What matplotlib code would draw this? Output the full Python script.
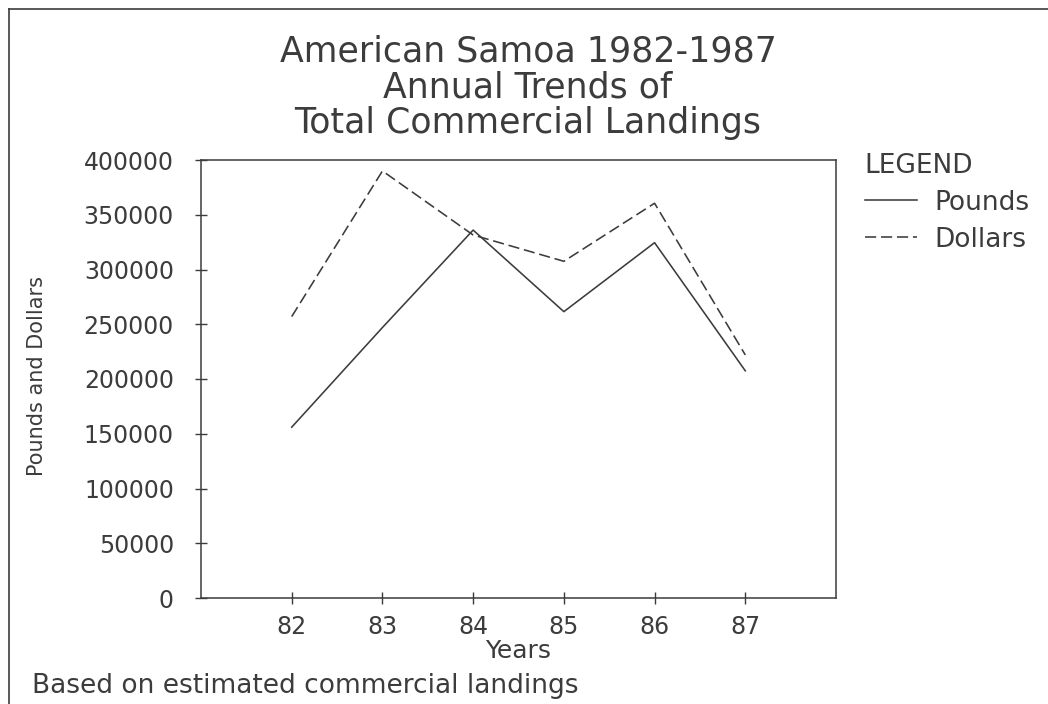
import matplotlib
matplotlib.use("Agg")
import matplotlib.pyplot as plt
from matplotlib.lines import Line2D

# ---- data ----
years = [82, 83, 84, 85, 86, 87]
pounds = [156000, 247000, 336000, 261500, 324500, 207500]
dollars = [257000, 390000, 331500, 307500, 360500, 222000]
y_ticks = [0, 50000, 100000, 150000, 200000, 250000, 300000, 350000, 400000]
title_lines = ["American Samoa 1982-1987", "Annual Trends of", "Total Commercial Landings"]

W, H = 1048, 704
ink = "#3c3c3c"
plt.rcParams['font.family'] = ['DejaVu Sans']

fig = plt.figure(figsize=(W / 100, H / 100), dpi=100)
ax = fig.add_axes([201 / W, 1 - 598 / H, (836 - 201) / W, (598 - 160) / H])

ax.plot(years, pounds, color=ink, lw=1.15, label="Pounds")
ax.plot(years, dollars, color=ink, lw=1.15, dashes=(7, 3), label="Dollars")

ax.set_xlim(81, 88)
ax.set_ylim(0, 400000)
ax.set_xticks(years)
ax.set_xticklabels([str(y) for y in years])
ax.set_yticks(y_ticks)
ax.set_yticklabels([str(v) for v in y_ticks])
ax.tick_params(axis='both', direction='inout', length=9, width=1.0, color=ink,
               labelcolor=ink, labelsize=17)
ax.tick_params(axis='y', pad=15)
ax.tick_params(axis='x', pad=8)
for s in ax.spines.values():
    s.set_color(ink)
    s.set_linewidth(1.1)

ax.set_xlabel("Years", fontsize=18, color=ink, labelpad=0)
fig.text(37 / W, 1 - 376 / H, "Pounds and Dollars", rotation=90, ha='center', va='center',
         fontsize=15, color=ink)

# title
for i, t in enumerate(title_lines):
    fig.text(528 / W, 1 - (51 + 36 * i) / H, t, ha='center', va='center',
             fontsize=25, color=ink)

# footnote
fig.text(32 / W, 1 - 686 / H, "Based on estimated commercial landings", ha='left',
         va='center', fontsize=19, color=ink)

# legend
leg = ax.legend(loc='upper left', bbox_to_anchor=(854 / W, 1 - 142 / H),
                bbox_transform=fig.transFigure, frameon=False, title="LEGEND",
                fontsize=19, title_fontsize=19, handlelength=2.0, handletextpad=0.65,
                labelspacing=0.42, alignment='left', borderaxespad=0)
for txt in leg.get_texts():
    txt.set_color(ink)
leg.get_title().set_color(ink)

# outer frame
fig.add_artist(Line2D([9 / W, 1], [1 - 9 / H, 1 - 9 / H], transform=fig.transFigure,
                      color=ink, lw=1.2))
fig.add_artist(Line2D([9 / W, 9 / W], [0, 1 - 9 / H], transform=fig.transFigure,
                      color=ink, lw=1.2))

fig.savefig("out.png", dpi=100)
